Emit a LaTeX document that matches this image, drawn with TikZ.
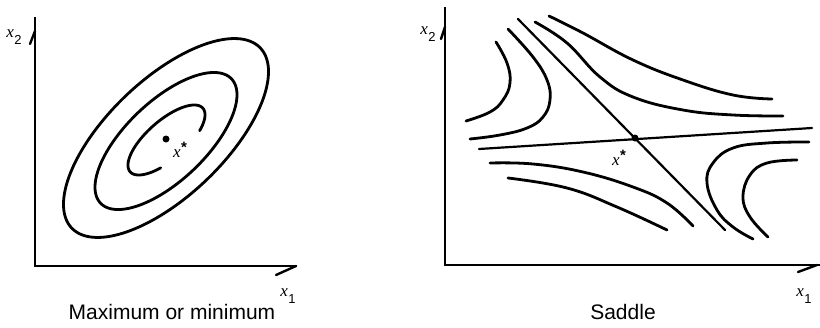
\documentclass[tikz,border=0pt]{standalone}
\usepackage{fontspec}
\setmainfont{Liberation Sans}
\newfontfamily\serifit{Liberation Serif}[UprightFont=*-Italic]
\newcommand{\ellcurve}[7]{%
  \draw[curve] plot[domain=#6:#7, samples=160, smooth]
   ({#1+#3*cos(\x)*cos(#5)-#4*sin(\x)*sin(#5)},
    {#2+#3*cos(\x)*sin(#5)+#4*sin(\x)*cos(#5)});}
\newcommand{\axlab}[1]{{\serifit\fontsize{17}{17}\selectfont x}\kern0.5pt\raisebox{-7pt}{\fontsize{13}{13}\selectfont #1}}
\newcommand{\xstar}{{\serifit\fontsize{17}{17}\selectfont x}\kern0.5pt\raisebox{5pt}{\fontsize{15}{15}\selectfont\bfseries *}}
\begin{document}
\begin{tikzpicture}[x=1pt,y=-1pt,
  curve/.style={line width=2.8pt, line cap=round, line join=round},
  axisline/.style={line width=2.2pt, line join=miter},
  sepline/.style={line width=2.2pt, line cap=round},
  barb/.style={line width=2.4pt, line cap=round},
  caption/.style={font=\fontsize{21}{21}\selectfont, inner sep=0pt},
  lab/.style={inner sep=0pt}]
\useasboundingbox (0,0) rectangle (820,327);
% ---------- left panel ----------
\coordinate (Ly) at (35,17);
\coordinate (Lo) at (35,266);
\coordinate (Lx) at (297,266);
\draw[axisline] (Ly) -- (Lo) -- (Lx);
\coordinate (Lyb1) at (30,44); \coordinate (Lyb2) at (35,31);
\draw[barb] (Lyb1) -- (Lyb2);
\coordinate (Lxb1) at (276,275); \coordinate (Lxb2) at (296,266);
\draw[barb] (Lxb1) -- (Lxb2);
\node[lab] (Lx2) at (14,37) {\axlab{2}};
\node[lab] (Lx1) at (288,296) {\axlab{1}};
\ellcurve{166}{138}{130.4}{58.3}{-43.7}{0}{360}
\ellcurve{166}{141}{90.3}{39.8}{-43.5}{0}{360}
\ellcurve{166.5}{140}{48.3}{19.4}{-41.2}{118}{410}
\node[circle, fill, inner sep=0pt, minimum size=7pt] (Ldot) at (166,139) {};
\node[lab] (Lstar) at (180,150) {\xstar};
\node[caption] (Lcap) at (172,312) {Maximum or minimum};
% ---------- right panel ----------
\coordinate (Ry) at (445,7);
\coordinate (Ro) at (445,265);
\coordinate (Rx) at (820,265);
\draw[axisline] (Ry) -- (Ro) -- (Rx);
\coordinate (Ryb1) at (441,39); \coordinate (Ryb2) at (445,27);
\draw[barb] (Ryb1) -- (Ryb2);
\coordinate (Rxb1) at (798,272); \coordinate (Rxb2) at (817,265);
\draw[barb] (Rxb1) -- (Rxb2);
\node[lab] (Rx2) at (428,34) {\axlab{2}};
\node[lab] (Rx1) at (804,296) {\axlab{1}};
% separatrices
\coordinate (A1) at (479,149); \coordinate (A2) at (812,128);
\coordinate (B1) at (518,19);  \coordinate (B2) at (725,230);
\draw[sepline] (A1) -- (A2);
\draw[sepline] (B1) -- (B2);
\node[circle, fill, inner sep=0pt, minimum size=7pt] (Rdot) at (635,138) {};
\node[lab] (Rstar) at (619,158) {\xstar};
% hyperbolas
\draw[curve] plot[smooth, tension=0.7] coordinates {(496,42) (507,63) (510,83) (503,100) (490,112) (466,121)};
\draw[curve] plot[smooth, tension=0.7] coordinates {(508,29) (533,57) (547,80) (550,100) (543,117) (527,128) (500,135) (470,139)};
\draw[curve] plot[smooth, tension=0.7] coordinates {(535,22) (567,43) (600,77) (633,97) (683,110) (733,115) (783,116)};
\draw[curve] plot[smooth, tension=0.7] coordinates {(549,16) (583,33) (633,60) (683,80) (733,95) (772,99)};
\draw[curve] plot[smooth, tension=0.7] coordinates {(490,163) (533,164) (583,172) (633,187) (667,203) (693,226)};
\draw[curve] plot[smooth, tension=0.7] coordinates {(508,178) (567,188) (617,207) (667,230)};
\draw[curve] plot[smooth, tension=0.7] coordinates {(809,142) (767,143) (733,148) (713,163) (707,183) (717,210) (733,227) (753,239)};
\draw[curve] plot[smooth, tension=0.7] coordinates {(797,160) (767,163) (750,175) (743,197) (750,217) (768,237)};
\node[caption] (Rcap) at (623,312) {Saddle};
\end{tikzpicture}
\end{document}
